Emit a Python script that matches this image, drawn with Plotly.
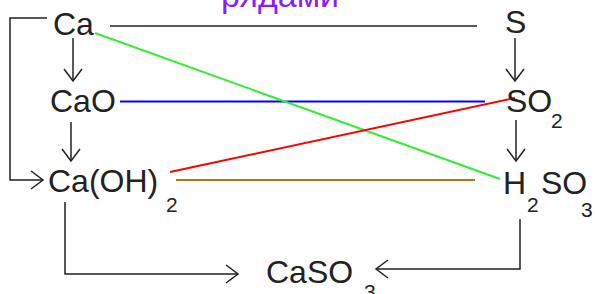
import math
import plotly.graph_objects as go

W, H = 595, 294

# ---- text content ----
title_text = "рядами"
title_pos = (219, 1.017)   # x in pixels, y in paper units (text runs off the top edge)

main_labels = ["Ca", "CaO", "Ca(OH)", "S", "SO", "H", "SO", "CaSO"]
main_x = [51, 48, 46, 503, 504, 501, 539, 264]
main_y = [23.5, 101, 180.5, 21.5, 100.5, 183, 183, 271.5]

sub_labels = ["2", "2", "2", "3", "3"]
sub_x = [164, 549, 525, 579, 362]
sub_y = [204.5, 120.5, 204.5, 209, 291]

# ---- connections between substances ----
link_names = ["Ca-S", "CaO-SO2", "Ca-H2SO3", "Ca(OH)2-SO2", "Ca(OH)2-H2SO3"]
link_x0 = [110, 120, 95, 170, 176]
link_y0 = [26, 101.5, 33, 172, 180]
link_x1 = [477, 485, 500, 515, 475]
link_y1 = [26, 101.5, 179, 98, 180]
link_colors = ["#222222", "#0000ff", "#33ee33", "#ff0000", "#b8741a"]

# ---- transformation arrows (polyline; last point is the arrow tip) ----
arrow_x = [[73, 73], [71, 71], [515, 515], [516, 516],
           [47, 10, 10, 43], [65, 65, 238], [520, 520, 376]]
arrow_y = [[38, 81], [122, 161], [38, 81], [120, 161],
           [18, 18, 180, 180], [202, 274, 274], [219, 269, 269]]

FONT = "Liberation Sans"
INK = "#222222"
LW = 1.5
HEAD_LEN = 12
HEAD_HALF = 9

fig = go.Figure()

for name, x0, y0, x1, y1, c in zip(link_names, link_x0, link_y0, link_x1, link_y1, link_colors):
    fig.add_trace(go.Scatter(x=[x0, x1], y=[y0, y1], mode="lines", name=name,
                             line=dict(color=c, width=LW if c == INK else 2),
                             hoverinfo="skip"))

for xs, ys in zip(arrow_x, arrow_y):
    fig.add_trace(go.Scatter(x=xs, y=ys, mode="lines", line=dict(color=INK, width=LW),
                             hoverinfo="skip"))
    # open V head at the last point
    tx, ty = xs[-1], ys[-1]
    dx, dy = tx - xs[-2], ty - ys[-2]
    n = math.hypot(dx, dy)
    ux, uy = dx / n, dy / n
    px, py = -uy, ux
    bx, by = tx - HEAD_LEN * ux, ty - HEAD_LEN * uy
    fig.add_trace(go.Scatter(
        x=[bx + HEAD_HALF * px, tx, bx - HEAD_HALF * px],
        y=[by + HEAD_HALF * py, ty, by - HEAD_HALF * py],
        mode="lines", line=dict(color=INK, width=LW), hoverinfo="skip"))

annotations = []
for t, x, y in zip(main_labels, main_x, main_y):
    annotations.append(dict(x=x, y=y, xref="x", yref="y", text=t, showarrow=False,
                            xanchor="left", yanchor="middle",
                            font=dict(family=FONT, size=32, color=INK)))
for t, x, y in zip(sub_labels, sub_x, sub_y):
    annotations.append(dict(x=x, y=y, xref="x", yref="y", text=t, showarrow=False,
                            xanchor="left", yanchor="middle",
                            font=dict(family=FONT, size=21, color=INK)))

annotations.append(dict(x=title_pos[0], y=title_pos[1], xref="x", yref="paper", text=title_text,
                        showarrow=False, xanchor="left", yanchor="middle",
                        font=dict(family=FONT, size=34, color="#8a1cff")))

fig.update_layout(
    width=W, height=H,
    margin=dict(l=0, r=0, t=0, b=0),
    paper_bgcolor="white", plot_bgcolor="white",
    showlegend=False,
    xaxis=dict(range=[0, W], visible=False, fixedrange=True),
    yaxis=dict(range=[H, 0], visible=False, fixedrange=True),
    annotations=annotations,
)

fig.write_html("out.html",
               config={"displayModeBar": False, "staticPlot": True},
               post_script="document.body.style.margin='0';document.body.style.overflow='hidden';")
